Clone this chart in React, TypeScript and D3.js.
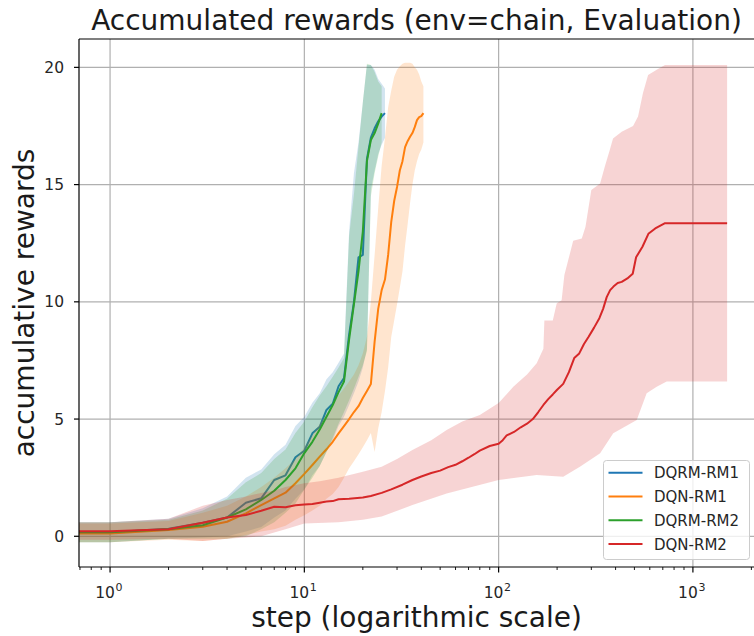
import React from "react";
import * as d3 from "d3";

// ---------------- data ----------------
const seriesNames = ["DQRM-RM1", "DQN-RM1", "DQRM-RM2", "DQN-RM2"];
const seriesColors = ["#1f77b4", "#ff7f0e", "#2ca02c", "#d62728"];

const blueSteps = d3.range(1, 27);
const blueMean = [0.17, 0.32, 0.58, 0.8, 1.43, 1.62, 2.4, 2.6, 3.37, 3.65, 4.39, 4.67, 5.39, 5.65, 6.4, 6.75, 8.6, 10.0, 11.9, 12.0, 16.1, 17.0, 17.4, 17.7, 17.9, 18.05];
const blueLower = [-0.25, -0.1, -0.05, 0.0, 0.2, 0.4, 0.8, 1.1, 1.6, 2.0, 2.6, 3.0, 3.6, 4.1, 4.7, 5.1, 5.6, 6.1, 6.6, 7.2, 8.0, 14.8, 15.6, 16.3, 16.7, 17.0];
const blueUpper = [0.6, 0.75, 1.2, 1.7, 2.5, 2.85, 3.5, 3.9, 4.7, 5.1, 5.7, 6.1, 6.7, 7.0, 7.4, 7.8, 13.0, 15.5, 16.8, 18.5, 20.1, 20.1, 19.9, 19.5, 19.3, 19.1];

const orangeSteps = d3.range(1, 42);
const orangeMean = [0.12, 0.27, 0.41, 0.62, 0.98, 1.33, 1.62, 1.86, 2.26, 2.66, 3.04, 3.4, 3.71, 4.03, 4.39, 4.7, 5.0, 5.3, 5.55, 5.9, 6.2, 6.5, 8.3, 9.7, 10.5, 10.95, 12.0, 13.4, 14.3, 14.9, 15.6, 16.0, 16.6, 16.85, 17.04, 17.2, 17.45, 17.75, 17.88, 17.92, 18.05];
const orangeLower = [-0.25, -0.15, -0.2, -0.1, 0.05, 0.2, 0.3, 0.45, 0.7, 0.9, 1.1, 1.3, 1.6, 1.8, 2.1, 2.5, 2.9, 3.2, 3.5, 3.8, 4.1, 4.4, 3.6, 4.6, 5.3, 6.2, 7.2, 8.5, 9.2, 9.9, 10.6, 11.3, 12.4, 13.3, 14.2, 15.0, 15.6, 16.0, 16.3, 16.5, 16.8];
const orangeUpper = [0.55, 0.65, 1.0, 1.3, 1.7, 2.1, 2.5, 2.9, 3.3, 3.8, 4.3, 4.8, 5.2, 5.6, 6.0, 6.3, 6.6, 6.9, 7.3, 7.8, 8.5, 10.0, 12.0, 14.0, 15.8, 17.0, 18.3, 19.0, 19.6, 19.9, 20.05, 20.15, 20.2, 20.2, 20.2, 20.15, 20.0, 19.9, 19.7, 19.4, 19.2];

const greenSteps = d3.range(1, 26);
const greenMean = [0.17, 0.3, 0.47, 0.8, 1.15, 1.55, 1.94, 2.4, 2.9, 3.55, 4.03, 4.55, 5.1, 5.6, 6.15, 6.6, 8.4, 9.9, 11.3, 13.0, 16.0, 16.9, 17.2, 17.6, 18.05];
const greenLower = [-0.25, -0.1, -0.1, -0.1, 0.0, 0.3, 0.6, 1.0, 1.4, 2.0, 2.5, 3.0, 3.6, 4.2, 4.8, 5.3, 5.8, 6.3, 6.8, 7.3, 7.9, 14.5, 15.5, 16.2, 16.8];
const greenUpper = [0.6, 0.7, 1.1, 1.6, 2.3, 2.7, 3.3, 3.7, 4.4, 4.9, 5.5, 6.0, 6.4, 6.8, 7.2, 7.6, 12.8, 14.6, 16.6, 18.5, 20.15, 20.1, 19.8, 19.4, 19.2];

const redSteps = [1, 2, 3, 4, 5, 6, 7, 8, 9, 10, 11, 12, 13, 14, 15, 17, 20, 22, 25, 28, 32, 36, 40, 45, 50, 55, 60, 65, 70, 75, 80, 90, 100, 105, 110, 120, 130, 140, 150, 160, 170, 180, 190, 200, 215, 230, 245, 260, 275, 290, 310, 330, 345, 360, 375, 390, 410, 430, 460, 490, 510, 550, 590, 640, 715, 1500];
const redMean = [0.22, 0.3, 0.58, 0.8, 0.91, 1.09, 1.26, 1.24, 1.32, 1.36, 1.38, 1.43, 1.48, 1.5, 1.58, 1.6, 1.65, 1.72, 1.85, 2.0, 2.2, 2.4, 2.55, 2.7, 2.8, 2.95, 3.05, 3.2, 3.35, 3.5, 3.65, 3.85, 3.95, 4.1, 4.3, 4.45, 4.65, 4.8, 5.0, 5.3, 5.6, 5.85, 6.05, 6.25, 6.5, 7.0, 7.6, 7.8, 8.2, 8.5, 8.9, 9.3, 9.7, 10.2, 10.5, 10.65, 10.8, 10.85, 11.0, 11.2, 11.9, 12.35, 12.9, 13.13, 13.35, 13.35];
const redUpperSteps = [1, 2, 3, 4, 5, 6, 7, 8, 10, 12, 15, 20, 25, 30, 36, 45, 54, 65, 80, 100, 119, 140, 157, 170, 172, 190, 199, 211, 218, 242, 268, 280, 300, 333, 353, 374, 388, 430, 492, 522, 553, 588, 651, 718, 1500];
const redUpper = [0.6, 0.75, 1.3, 1.55, 1.7, 1.85, 1.95, 2.1, 2.26, 2.35, 2.5, 2.75, 2.97, 3.3, 3.68, 4.1, 4.53, 4.9, 5.17, 5.68, 6.38, 6.9, 7.38, 8.0, 9.2, 9.2, 9.93, 10.07, 11.14, 12.6, 12.7, 13.2, 14.77, 15.05, 15.8, 16.5, 16.97, 17.25, 17.5, 17.9, 18.9, 19.67, 19.9, 20.1, 20.1];
const redLowerSteps = [1, 2, 3, 4, 5, 6, 8, 10, 15, 20, 25, 36, 54, 100, 157, 215, 262, 333, 389, 514, 578, 651, 733, 1500];
const redLower = [-0.15, -0.1, -0.2, -0.1, -0.05, 0.0, 0.3, 0.55, 0.6, 0.7, 0.84, 1.33, 1.83, 2.4, 2.61, 2.54, 2.97, 3.54, 4.39, 4.96, 6.1, 6.38, 6.6, 6.6];

const yTicks = [0, 5, 10, 15, 20];
const xMajorTicks = [1, 10, 100, 1000];
const xTickExponents = ["0", "1", "2", "3"];
const xDomain = [0.692, 2163];
const yDomain = [-1.31, 21.21];

const titleText = "Accumulated rewards (env=chain, Evaluation)";
const xLabelText = "step (logarithmic scale)";
const yLabelText = "accumulative rewards";

// ---------------- layout ----------------
const W = 754;
const H = 636;
const M = { left: 79, right: 758, top: 39, bottom: 567 };
const FONT = "'DejaVu Sans', sans-serif";

const x = d3.scaleLog().domain(xDomain).range([M.left, M.right]);
const y = d3.scaleLinear().domain(yDomain).range([M.bottom, M.top]);

type P = [number, number];
const FAR_LEFT = -10000;

function pts(steps: number[], vals: number[]): P[] {
  const p: P[] = steps.map((s, i) => [x(s), y(vals[i])]);
  // data begins at step 0 on a log axis: the segment runs off to the left
  return [[FAR_LEFT, p[0][1]], ...p];
}

const lineGen = d3.line<P>().x((d) => d[0]).y((d) => d[1]);

function bandPath(uSteps: number[], u: number[], lSteps: number[], l: number[]) {
  const up = pts(uSteps, u);
  const lo = pts(lSteps, l).reverse();
  return lineGen([...up, ...lo]) + "Z";
}

const series = [
  { name: seriesNames[0], color: seriesColors[0], line: pts(blueSteps, blueMean), band: bandPath(blueSteps, blueUpper, blueSteps, blueLower) },
  { name: seriesNames[1], color: seriesColors[1], line: pts(orangeSteps, orangeMean), band: bandPath(orangeSteps, orangeUpper, orangeSteps, orangeLower) },
  { name: seriesNames[2], color: seriesColors[2], line: pts(greenSteps, greenMean), band: bandPath(greenSteps, greenUpper, greenSteps, greenLower) },
  { name: seriesNames[3], color: seriesColors[3], line: pts(redSteps, redMean), band: bandPath(redUpperSteps, redUpper, redLowerSteps, redLower) },
];

function minorTicks(): number[] {
  const out: number[] = [];
  for (let e = -1; e <= 3; e++) {
    for (let k = 2; k <= 9; k++) {
      const v = k * Math.pow(10, e);
      if (v >= xDomain[0] && v <= xDomain[1]) out.push(v);
    }
  }
  return out;
}

export default function App() {
  const cx = (M.left + M.right) / 2 - 2;
  const cy = (M.top + M.bottom) / 2;
  const legend = { x: 603.5, y: 460.5, w: 146, h: 99, row0: 472.7, dy: 23.8 };
  return (
    <svg
      width={W}
      height={H}
      viewBox={`0 0 ${W} ${H}`}
      style={{ position: "absolute", left: 0, top: 0, background: "#fff" }}
      fontFamily={FONT}
    >
      <defs>
        <clipPath id="plotclip">
          <rect x={M.left} y={M.top} width={M.right - M.left} height={M.bottom - M.top} />
        </clipPath>
      </defs>
      <rect x={0} y={0} width={W} height={H} fill="#fff" />

      {/* grid */}
      <g stroke="#b0b0b0" strokeWidth={1.2}>
        {xMajorTicks.map((t) => (
          <line key={"gx" + t} x1={x(t)} x2={x(t)} y1={M.top} y2={M.bottom} />
        ))}
        {yTicks.map((t) => (
          <line key={"gy" + t} x1={M.left} x2={M.right} y1={y(t)} y2={y(t)} />
        ))}
      </g>

      {/* data */}
      <g clipPath="url(#plotclip)">
        {series.map((s) => (
          <g key={s.name}>
            <path d={s.band} fill={s.color} fillOpacity={0.2} stroke="none" />
            <path d={lineGen(s.line) || ""} fill="none" stroke={s.color} strokeWidth={2} strokeLinejoin="round" />
          </g>
        ))}
      </g>

      {/* spines */}
      <g stroke="#000" strokeWidth={1.2} fill="none">
        <line x1={M.left} x2={M.left} y1={M.top} y2={M.bottom} />
        <line x1={M.left} x2={M.right} y1={M.bottom} y2={M.bottom} />
        <line x1={M.left} x2={M.right} y1={M.top} y2={M.top} />
        <line x1={M.right} x2={M.right} y1={M.top} y2={M.bottom} />
      </g>

      {/* y ticks */}
      <g>
        {yTicks.map((t) => (
          <g key={"yt" + t}>
            <line x1={M.left - 5} x2={M.left} y1={y(t)} y2={y(t)} stroke="#000" strokeWidth={1.2} />
            <text x={M.left - 15} y={y(t)} dy="0.36em" textAnchor="end" fontSize={15.5} fill="#262626">
              {t}
            </text>
          </g>
        ))}
      </g>

      {/* x ticks */}
      <g>
        {minorTicks().map((t) => (
          <line key={"mx" + t} x1={x(t)} x2={x(t)} y1={M.bottom} y2={M.bottom + 3} stroke="#000" strokeWidth={0.9} />
        ))}
        {xMajorTicks.map((t, i) => (
          <g key={"xt" + t}>
            <line x1={x(t)} x2={x(t)} y1={M.bottom} y2={M.bottom + 5.5} stroke="#000" strokeWidth={1.2} />
            <text x={x(t) - 5} y={598.3} textAnchor="middle" fontSize={15.5} fill="#262626">
              10
            </text>
            <text x={x(t) + 9} y={590.5} textAnchor="middle" fontSize={11} fill="#262626">
              {xTickExponents[i]}
            </text>
          </g>
        ))}
      </g>

      {/* labels */}
      <text x={cx} y={29.5} textAnchor="middle" fontSize={28} fill="#1a1a1a">
        {titleText}
      </text>
      <text x={cx} y={627} textAnchor="middle" fontSize={28} fill="#1a1a1a">
        {xLabelText}
      </text>
      <text
        x={0}
        y={0}
        transform={`translate(33.5, ${cy}) rotate(-90)`}
        textAnchor="middle"
        fontSize={28}
        fill="#1a1a1a"
      >
        {yLabelText}
      </text>

      {/* legend */}
      <g>
        <rect x={legend.x} y={legend.y} width={legend.w} height={legend.h} rx={3} fill="#fff" fillOpacity={0.8} stroke="#cccccc" strokeWidth={1} />
        {series.map((s, i) => (
          <g key={"lg" + s.name}>
            <line x1={608.5} x2={642.5} y1={legend.row0 + i * legend.dy} y2={legend.row0 + i * legend.dy} stroke={s.color} strokeWidth={2} />
            <text x={654} y={legend.row0 + i * legend.dy} dy="0.36em" fontSize={15} fill="#262626">
              {s.name}
            </text>
          </g>
        ))}
      </g>
    </svg>
  );
}
